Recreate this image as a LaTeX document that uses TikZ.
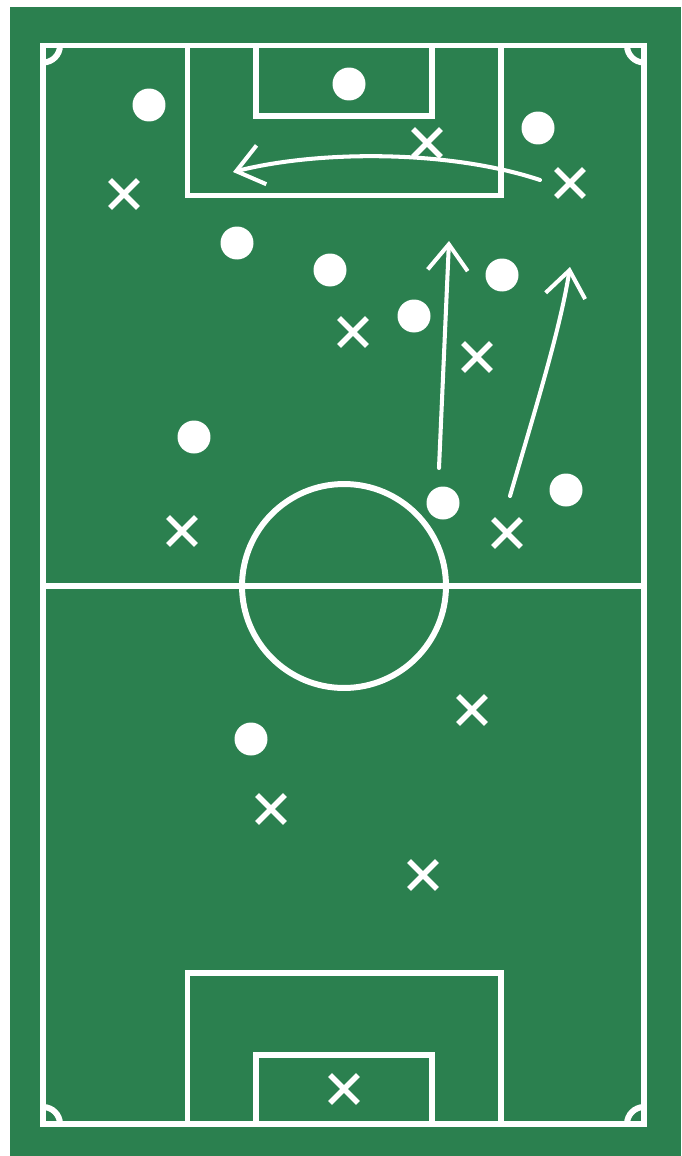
\documentclass[tikz,border=0pt]{standalone}
\usetikzlibrary{arrows.meta,shapes.misc}
\definecolor{pitchgreen}{RGB}{43,128,79}
\tikzset{
  pitchline/.style={white,line width=3.4pt},
  player/.style={circle,fill=white,inner sep=0pt,minimum size=0.66cm},
  opponent/.style={cross out,draw=white,line width=3.1pt,inner sep=0pt,minimum size=0.45cm},
  run/.style={white,line width=2.3pt,line cap=round,line join=round,
    -{Straight Barb[length=0.52cm,width=0.8cm]}}
}
\begin{document}
\begin{tikzpicture}[x=0.02cm,y=-0.02cm]
    \useasboundingbox (0,0) rectangle (681,1156);
    \fill[white] (0,0) rectangle (681,1156);
    \fill[pitchgreen] (10,7) rectangle (681,1156);
    % pitch
    \draw[pitchline] (43,45.5) rectangle (644,1124);
    \draw[pitchline] (43,586) -- (644,586);
    \draw[pitchline] (344,586) circle (2.04cm);
    \draw[pitchline] (187.5,45.5) rectangle (501,195.5);
    \draw[pitchline] (256,45.5) rectangle (432,116);
    \draw[pitchline] (187.5,1124) rectangle (501,973);
    \draw[pitchline] (256,1124) rectangle (432,1054.5);
    \begin{scope}
      \clip (43,45.5) rectangle (644,1124);
      \foreach \cx/\cy in {43/45.5,644/45.5,43/1124,644/1124}
        \draw[pitchline] (\cx,\cy) circle (0.34cm);
    \end{scope}
    % players
    \foreach \px/\py [count=\i] in {149/105,349/84,538/128,237/243,330/270,502/275,414/316,194/437,443/503,566/490,251/739}
      \node[player] (p\i) at (\px,\py) {};
    \foreach \px/\py [count=\i] in {124/194,427/143,570/183,353/332,477/357,182/531,507/533,472/710,271/809,423/875,344/1089}
      \node[opponent] (x\i) at (\px,\py) {};
    % runs
    \coordinate (crossfrom) at (540,180);
    \coordinate (crossto) at (233,172);
    \coordinate (runafrom) at (439,468);
    \coordinate (runato) at (449,241);
    \coordinate (runbfrom) at (510,496);
    \coordinate (runbto) at (570,267);
    \draw[run] (crossfrom) .. controls (450,150) and (320,150) .. (crossto);
    \draw[run] (runafrom) -- (runato);
    \draw[run] (runbfrom) .. controls (535,410) and (560,330) .. (runbto);
\end{tikzpicture}
\end{document}
